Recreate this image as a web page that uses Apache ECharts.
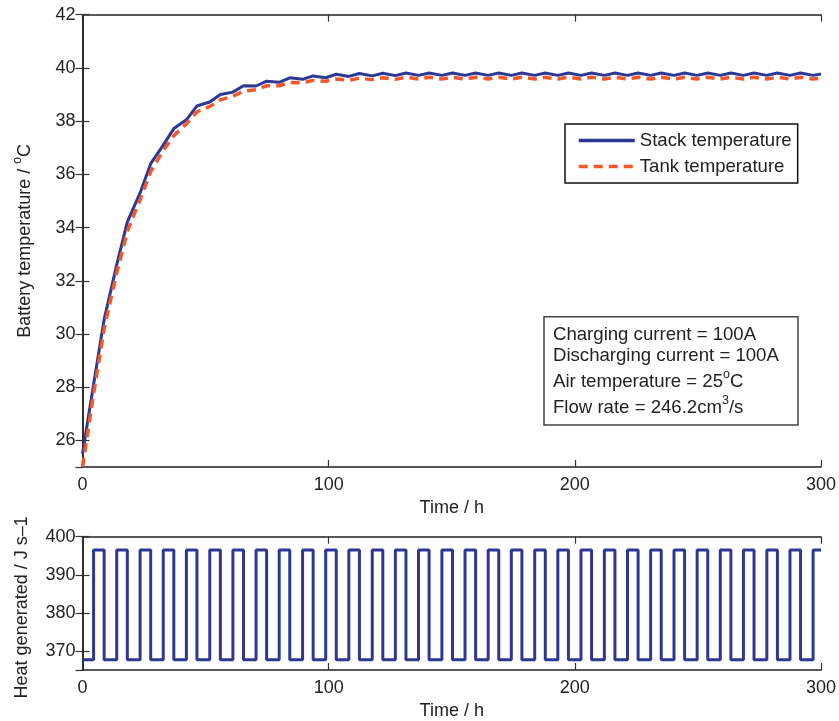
<!DOCTYPE html>
<html>
<head>
<meta charset="utf-8">
<script src="https://cdn.jsdelivr.net/npm/echarts@6/dist/echarts.min.js"></script>
<style>
  html, body { margin: 0; padding: 0; background: #fff; }
  #chart { width: 839px; height: 721px; }
</style>
</head>
<body>
<div id="chart"></div>
<script>
// ---- data ----
// switching instants (h): vertices of the temperature curves and edges of the heat pulses
var timeKnots = [0, 4.5, 8.8, 13.9, 18.2, 23.4, 27.7, 32.8, 37.1, 42.2, 46.5, 51.7, 56.0, 61.1, 65.4,
  70.5, 74.8, 79.9, 84.2, 89.4, 93.7, 98.8, 103.1, 108.2, 112.5, 117.7, 122.0, 127.1, 131.4, 136.5,
  140.8, 146.0, 150.3, 155.4, 159.7, 164.8, 169.1, 174.2, 178.5, 183.7, 188.0, 193.1, 197.4, 202.5,
  206.8, 212.0, 216.3, 221.4, 225.7, 230.8, 235.1, 240.3, 244.6, 249.7, 254.0, 259.1, 263.4, 268.5,
  272.8, 278.0, 282.3, 287.4, 291.7, 296.8, 300];

var stackTemp = [25.5, 28.1, 30.55, 32.6, 34.2, 35.3, 36.4, 37.1, 37.72, 38.05, 38.57, 38.72, 39.0, 39.09, 39.33,
  39.32, 39.5, 39.46, 39.63, 39.57, 39.7, 39.63, 39.76, 39.68, 39.79, 39.7, 39.8, 39.71, 39.81, 39.72,
  39.81, 39.72, 39.81, 39.72, 39.81, 39.72, 39.81, 39.72, 39.81, 39.72, 39.81, 39.72, 39.81, 39.72,
  39.81, 39.72, 39.81, 39.72, 39.81, 39.72, 39.81, 39.72, 39.81, 39.72, 39.81, 39.72, 39.81, 39.72,
  39.81, 39.72, 39.81, 39.72, 39.81, 39.72, 39.77];

var tankTemp = [25.0, 27.75, 30.2, 32.3, 33.85, 35.05, 36.1, 36.9, 37.45, 37.9, 38.35, 38.55, 38.8, 38.93, 39.13,
  39.18, 39.33, 39.33, 39.45, 39.44, 39.53, 39.5, 39.58, 39.54, 39.61, 39.56, 39.63, 39.57, 39.65, 39.58,
  39.65, 39.58, 39.65, 39.58, 39.65, 39.58, 39.65, 39.58, 39.65, 39.58, 39.65, 39.58, 39.65, 39.58,
  39.65, 39.58, 39.65, 39.58, 39.65, 39.58, 39.65, 39.58, 39.65, 39.58, 39.65, 39.58, 39.65, 39.58,
  39.65, 39.58, 39.65, 39.58, 39.65, 39.58, 39.62];

var heatLevel = [367.7, 396.5, 367.7, 396.5, 367.7, 396.5, 367.7, 396.5, 367.7, 396.5, 367.7, 396.5, 367.7, 396.5, 367.7,
  396.5, 367.7, 396.5, 367.7, 396.5, 367.7, 396.5, 367.7, 396.5, 367.7, 396.5, 367.7, 396.5, 367.7, 396.5,
  367.7, 396.5, 367.7, 396.5, 367.7, 396.5, 367.7, 396.5, 367.7, 396.5, 367.7, 396.5, 367.7, 396.5,
  367.7, 396.5, 367.7, 396.5, 367.7, 396.5, 367.7, 396.5, 367.7, 396.5, 367.7, 396.5, 367.7, 396.5,
  367.7, 396.5, 367.7, 396.5, 367.7, 396.5, 396.5];

var seriesNames = ['Stack temperature', 'Tank temperature'];
var xTickLabels = ['0', '100', '200', '300'];
var annotationLines = [
  '{a|Charging current = 100A}',
  '{a|Discharging current = 100A}',
  '{a|Air temperature = 25}{s|o}{a|C}',
  '{a|Flow rate = 246.2cm}{s|3}{a|/s}'
];

// ---- chart ----
var FONT = '"Liberation Sans", Arial, Helvetica, sans-serif';
var BLUE = '#2b3894';
var ORANGE = '#f4582a';
var TXT = '#222';
var TICK_FS = 18;
var NAME_FS = 18;
var BOX_FS = 18.6;

function pairs(xs, ys) { return xs.map(function (x, i) { return [x, ys[i]]; }); }

var axisLineStyle = { show: true, lineStyle: { color: '#222', width: 1.5 } };
var tickIn = { show: true, inside: true, length: 7, lineStyle: { color: '#333', width: 1.2 } };
var labelStyle = { color: TXT, fontSize: TICK_FS, fontFamily: FONT };

function xAxisDef(gridIndex, pos, showLabels) {
  return {
    type: 'value', gridIndex: gridIndex, position: pos, min: 0, max: 300, interval: 100,
    axisLine: axisLineStyle, axisTick: tickIn, splitLine: { show: false },
    axisLabel: Object.assign({ show: showLabels, margin: 9,
      formatter: function (v) { var i = v / 100; return xTickLabels[i] !== undefined ? xTickLabels[i] : v; } }, labelStyle),
    name: showLabels ? 'Time / h' : '', nameLocation: 'middle', nameGap: 32,
    nameTextStyle: { color: TXT, fontSize: NAME_FS, fontFamily: FONT }
  };
}

var chart = echarts.init(document.getElementById('chart'), null, { renderer: 'canvas' });
chart.setOption({
  animation: false,
  backgroundColor: '#fff',
  textStyle: { fontFamily: FONT },
  grid: [
    { left: 82.5, top: 14.7, width: 740, height: 452.3 },
    { left: 82.5, top: 536.7, width: 740, height: 134 }
  ],
  xAxis: [
    xAxisDef(0, 'bottom', true),
    xAxisDef(0, 'top', false),
    xAxisDef(1, 'bottom', true),
    xAxisDef(1, 'top', false)
  ],
  yAxis: [
    { type: 'value', gridIndex: 0, position: 'left', min: 25, max: 42, splitNumber: 8,
      axisLine: axisLineStyle, axisTick: tickIn, splitLine: { show: false },
      axisLabel: Object.assign({ margin: 7, showMinLabel: false }, labelStyle),
      name: '{a|Battery temperature / }{s|o}{a|C}', nameLocation: 'middle', nameRotate: 90, nameGap: 48,
      nameTextStyle: { rich: { a: { fontSize: NAME_FS, color: TXT, fontFamily: FONT, lineHeight: 23, verticalAlign: 'bottom' },
                               s: { fontSize: 12, color: TXT, fontFamily: FONT, verticalAlign: 'top' } } } },
    { type: 'value', gridIndex: 0, position: 'right', min: 25, max: 42, splitNumber: 8,
      axisLine: axisLineStyle, axisTick: tickIn, splitLine: { show: false }, axisLabel: { show: false } },
    { type: 'value', gridIndex: 1, position: 'left', min: 365, max: 400, splitNumber: 4,
      axisLine: axisLineStyle, axisTick: tickIn, splitLine: { show: false },
      axisLabel: Object.assign({ margin: 7, showMinLabel: false,
        formatter: function (v) { return v % 10 === 0 ? String(v) : ''; } }, labelStyle),
      name: 'Heat generated / J s–1', nameLocation: 'middle', nameRotate: 90, nameGap: 51,
      nameTextStyle: { color: TXT, fontSize: NAME_FS, fontFamily: FONT, padding: [0, 8, 0, 0] } },
    { type: 'value', gridIndex: 1, position: 'right', min: 365, max: 400, splitNumber: 4,
      axisLine: axisLineStyle, axisTick: tickIn, splitLine: { show: false }, axisLabel: { show: false } }
  ],
  legend: {
    orient: 'vertical', left: 565, top: 124,
    itemWidth: 56, itemHeight: 14, itemGap: 7,
    padding: [7, 6, 7, 12],
    borderColor: '#111', borderWidth: 1.5, backgroundColor: '#fff',
    itemStyle: { opacity: 0 },
    lineStyle: { width: 3.5 },
    textStyle: { fontSize: BOX_FS, color: TXT, fontFamily: FONT },
    data: seriesNames
  },
  graphic: [
    { type: 'rect', shape: { x: 544, y: 316.7, width: 254, height: 108.3 },
      style: { fill: '#fff', stroke: '#444', lineWidth: 1.5 }, z: 10 }
  ].concat(annotationLines.map(function (t, i) {
    var ys = [332.7, 354.3, 380, 406];
    return { type: 'text', x: 553, y: ys[i], z: 11,
      style: { text: t, verticalAlign: 'middle', align: 'left',
        rich: { a: { fontSize: BOX_FS, fill: TXT, fontFamily: FONT, lineHeight: 23, verticalAlign: 'bottom' },
                s: { fontSize: 12.5, fill: TXT, fontFamily: FONT, verticalAlign: 'top' } } } };
  })),
  series: [
    { name: seriesNames[0], type: 'line', xAxisIndex: 0, yAxisIndex: 0,
      data: pairs(timeKnots, stackTemp), symbol: 'none', showSymbol: false,
      lineStyle: { color: BLUE, width: 3 }, itemStyle: { color: BLUE }, z: 3 },
    { name: seriesNames[1], type: 'line', xAxisIndex: 0, yAxisIndex: 0,
      data: pairs(timeKnots, tankTemp), symbol: 'none', showSymbol: false,
      lineStyle: { color: ORANGE, width: 3.5, type: [9, 6] }, itemStyle: { color: ORANGE }, z: 4 },
    { name: 'Heat generated', type: 'line', xAxisIndex: 2, yAxisIndex: 2, step: 'end',
      data: pairs(timeKnots, heatLevel), symbol: 'none', showSymbol: false,
      lineStyle: { color: BLUE, width: 3 }, itemStyle: { color: BLUE }, z: 3 }
  ]
});
</script>
</body>
</html>
